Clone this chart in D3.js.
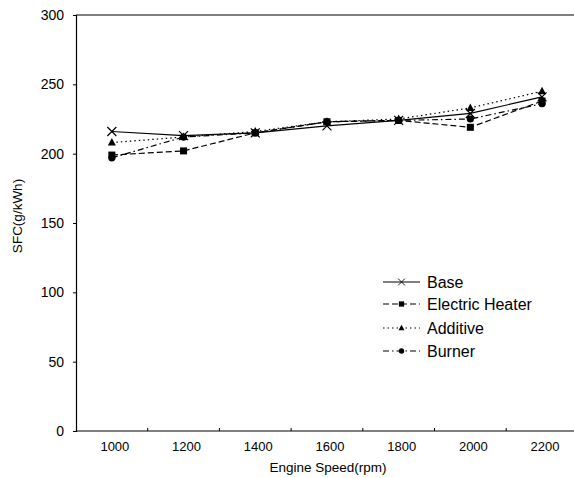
<!DOCTYPE html>
<html>
<head>
<meta charset="utf-8">
<script src="https://cdn.jsdelivr.net/npm/d3@7"></script>
<style>
  body { margin: 0; background: #fff; }
  svg { font-family: "Liberation Sans", Arial, sans-serif; }
</style>
</head>
<body>
<div id="container"></div>
<script>
const speeds = [1000, 1200, 1400, 1600, 1800, 2000, 2200];
const base = [216, 213, 215, 220, 224, 229, 241];
const heater = [199, 202, 215, 223, 224, 219, 238];
const additive = [208, 212, 216, 223, 225, 233, 245];
const burner = [197, 212, 215, 223, 224, 225, 236];
const yTicks = [0, 50, 100, 150, 200, 250, 300];

const series = [
  { name: "Base", values: base, dash: null, marker: "x" },
  { name: "Electric Heater", values: heater, dash: "6,3", marker: "square" },
  { name: "Additive", values: additive, dash: "1.5,3", marker: "triangle" },
  { name: "Burner", values: burner, dash: "6,3,1.5,3", marker: "circle" }
];

const w = 574;
const h = 478;
const pad = { top: 15, left: 76, bottom: 431 };
const bandW = 71.7;

const x = d3.scaleBand()
  .domain(speeds)
  .range([pad.left, pad.left + bandW * speeds.length])
  .padding(0);

const y = d3.scaleLinear().domain([0, 300]).range([pad.bottom, pad.top]);

const svg = d3.select("#container").append("svg")
  .attr("width", w)
  .attr("height", h);

// frame: top line and axes
svg.append("line")
  .attr("x1", pad.left).attr("x2", w)
  .attr("y1", pad.top).attr("y2", pad.top)
  .attr("stroke", "#000").attr("stroke-width", 1.2);

const yAxis = svg.append("g")
  .attr("transform", `translate(${pad.left},0)`)
  .call(d3.axisLeft(y).tickValues(yTicks).tickSize(3).tickPadding(9));
yAxis.select(".domain").attr("stroke-width", 1.2);
yAxis.selectAll("text").attr("font-size", 14).attr("fill", "#000");

const xAxis = svg.append("g")
  .attr("transform", `translate(0,${pad.bottom})`)
  .call(d3.axisBottom(x).tickSize(0).tickPadding(11));
xAxis.select(".domain").attr("d", `M${pad.left},0H${w}`).attr("stroke-width", 1.2);
xAxis.selectAll("text").attr("font-size", 13).attr("fill", "#000")
  .attr("dx", 3);

// category boundary ticks
svg.append("g")
  .selectAll("line")
  .data(speeds.slice(1))
  .enter()
  .append("line")
  .attr("x1", (d) => x(d)).attr("x2", (d) => x(d))
  .attr("y1", pad.bottom).attr("y2", pad.bottom - 3)
  .attr("stroke", "#000");

svg.append("text")
  .attr("x", 328).attr("y", 472)
  .attr("text-anchor", "middle")
  .attr("font-size", 13.5)
  .text("Engine Speed(rpm)");

svg.append("text")
  .attr("transform", "translate(22,216) rotate(-90)")
  .attr("text-anchor", "middle")
  .attr("font-size", 13.5)
  .text("SFC(g/kWh)");

const cx = (i) => x(speeds[i]) + x.bandwidth() / 2;

const drawMarker = function (g, type, px, py) {
  if (type === "x") {
    g.append("path")
      .attr("d", `M${px - 4.5},${py - 4.5}L${px + 4.5},${py + 4.5}M${px - 4.5},${py + 4.5}L${px + 4.5},${py - 4.5}`)
      .attr("stroke", "#000").attr("stroke-width", 1.2).attr("fill", "none");
  } else if (type === "square") {
    g.append("rect")
      .attr("x", px - 3.5).attr("y", py - 3.5)
      .attr("width", 7).attr("height", 7)
      .attr("fill", "#000");
  } else if (type === "triangle") {
    g.append("path")
      .attr("d", `M${px},${py - 4.5}L${px + 4},${py + 3}L${px - 4},${py + 3}Z`)
      .attr("fill", "#000");
  } else {
    g.append("circle")
      .attr("cx", px).attr("cy", py).attr("r", 3.6)
      .attr("fill", "#000");
  }
};

const line = d3.line()
  .x((d, i) => cx(i))
  .y((d) => y(d));

series.forEach((s) => {
  const g = svg.append("g");
  g.append("path")
    .datum(s.values)
    .attr("d", line)
    .attr("fill", "none")
    .attr("stroke", "#000")
    .attr("stroke-width", 1.2)
    .attr("stroke-dasharray", s.dash);
  s.values.forEach((v, i) => drawMarker(g, s.marker, cx(i), y(v)));
});

// legend
const legendY = [282, 304, 328, 351];
series.forEach((s, i) => {
  const g = svg.append("g");
  g.append("line")
    .attr("x1", 383).attr("x2", 420)
    .attr("y1", legendY[i]).attr("y2", legendY[i])
    .attr("stroke", "#000").attr("stroke-width", 1.2)
    .attr("stroke-dasharray", s.dash);
  const m = g.append("g").attr("transform", `translate(401.5,${legendY[i]}) scale(0.75) translate(-401.5,${-legendY[i]})`);
  drawMarker(m, s.marker, 401.5, legendY[i]);
  g.append("text")
    .attr("x", 427).attr("y", legendY[i] + 6)
    .attr("font-size", 16)
    .text(s.name);
});
</script>
</body>
</html>
